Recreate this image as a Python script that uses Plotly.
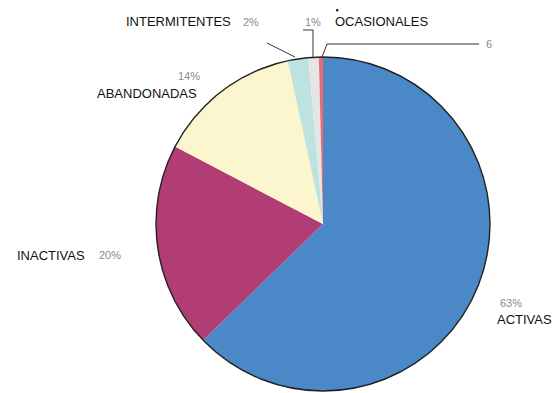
import plotly.graph_objects as go

# Slice data (clockwise from 12 o'clock)
categories = ["ACTIVAS", "INACTIVAS", "ABANDONADAS", "INTERMITENTES", "OCASIONALES", "6"]
values = [63, 20, 14, 2, 1, 0.4]
colors = ["#4A88C7", "#B23C74", "#FBF6CE", "#BEE2DF", "#E5E5E5", "#EE6B6B"]

W, H = 555, 393


def px(x):
    return x / W


def py(y):
    return 1 - y / H


pie_domain = dict(x=[px(156), px(490)], y=[py(391), py(57)])

fig = go.Figure()
fig.add_trace(go.Pie(
    labels=categories,
    values=values,
    marker=dict(colors=colors, line=dict(width=0)),
    sort=False,
    direction="clockwise",
    rotation=0,
    textinfo="none",
    hoverinfo="label+percent",
    showlegend=False,
    domain=pie_domain,
))
# Thin outer rim around the whole pie
fig.add_trace(go.Pie(
    labels=["rim"],
    values=[1],
    marker=dict(colors=["rgba(0,0,0,0)"], line=dict(color="#222222", width=1.4)),
    textinfo="none",
    hoverinfo="skip",
    showlegend=False,
    domain=pie_domain,
))

label_font = dict(family="Liberation Sans, Arial, sans-serif", size=13, color="#111111")
pct_font = dict(family="Liberation Sans, Arial, sans-serif", size=11, color="#8a8a8a")


def pct(v):
    return f"{v:g}%"


annotations = []


def add_text(text, x, y, font, anchor="left"):
    annotations.append(dict(
        text=text, x=px(x), y=py(y), xref="paper", yref="paper",
        xanchor=anchor, yanchor="middle", showarrow=False, font=font,
    ))


# Category names and their shares
add_text(categories[3], 124, 22, label_font)
add_text(pct(values[3]), 241, 22, pct_font)
add_text(pct(values[4]), 303, 22, pct_font)
add_text(categories[4], 333, 22, label_font)
add_text(categories[5], 484, 44, pct_font)
add_text(pct(values[2]), 176, 76, pct_font)
add_text(categories[2], 95, 93, label_font)
add_text(categories[1], 15, 255, label_font)
add_text(pct(values[1]), 97, 255, pct_font)
add_text(pct(values[0]), 498, 303, pct_font)
add_text(categories[0], 495, 319, label_font)

line_style = dict(color="#333333", width=1)
shapes = [
    # leader for INTERMITENTES
    dict(type="line", xref="paper", yref="paper",
         x0=px(267), y0=py(43), x1=px(295), y1=py(57), line=line_style),
    # leader for OCASIONALES share
    dict(type="path", xref="paper", yref="paper",
         path=f"M {px(303)} {py(30)} L {px(313)} {py(30)} L {px(313)} {py(57)}",
         line=line_style),
    # leader for the smallest slice
    dict(type="path", xref="paper", yref="paper",
         path=f"M {px(322)} {py(57)} L {px(327)} {py(44)} L {px(479)} {py(44)}",
         line=line_style),
    # small dot above OCASIONALES
    dict(type="circle", xref="paper", yref="paper",
         x0=px(336), y0=py(9), x1=px(338.5), y1=py(11.5),
         fillcolor="#111111", line=dict(width=0)),
]

fig.update_layout(
    width=W, height=H,
    margin=dict(l=0, r=0, t=0, b=0),
    paper_bgcolor="white",
    plot_bgcolor="white",
    annotations=annotations,
    shapes=shapes,
)

fig.write_html("out.html")
